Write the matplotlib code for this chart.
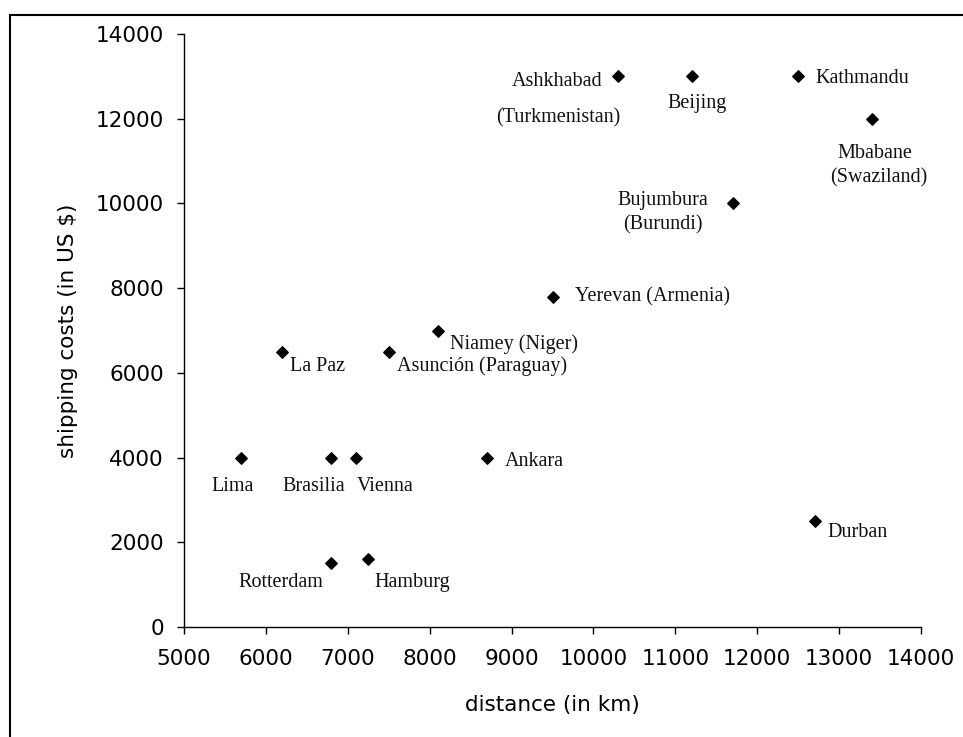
import matplotlib.pyplot as plt
from matplotlib.patches import Rectangle

# data
cities = ['Ashkhabad', 'Beijing', 'Kathmandu', 'Mbabane', 'Bujumbura', 'Yerevan',
          'Niamey', 'La Paz', 'Asuncion', 'Lima', 'Brasilia', 'Vienna', 'Ankara',
          'Rotterdam', 'Hamburg', 'Durban']
distance_km = [10300, 11200, 12500, 13400, 11700, 9500,
               8100, 6200, 7500, 5700, 6800, 7100, 8700,
               6800, 7250, 12700]
cost_usd = [13000, 13000, 13000, 12000, 10000, 7800,
            7000, 6500, 6500, 4000, 4000, 4000, 4000,
            1500, 1600, 2500]
label_lines = [['Ashkhabad', '(Turkmenistan)'], ['Beijing'], ['Kathmandu'],
               ['Mbabane', '(Swaziland)'], ['Bujumbura', '(Burundi)'],
               ['Yerevan (Armenia)'], ['Niamey (Niger)'], ['La Paz'],
               ['Asunción (Paraguay)'], ['Lima'], ['Brasilia'], ['Vienna'],
               ['Ankara'], ['Rotterdam'], ['Hamburg'], ['Durban']]
x_ticks = list(range(5000, 14001, 1000))
y_ticks = list(range(0, 14001, 2000))

# label placement: per line (dx, dy_down, ha) in pixels from the marker, baseline anchored
label_pos = {
    'Ashkhabad': [(-61, 10, 'center'), (-60, 46, 'center')],
    'Beijing': [(5, 32, 'center')],
    'Kathmandu': [(17, 7, 'left')],
    'Mbabane': [(3, 39, 'center'), (7, 64, 'center')],
    'Bujumbura': [(-70, 2, 'center'), (-70, 26, 'center')],
    'Yerevan': [(22, 5, 'left')],
    'Niamey': [(12, 19, 'left')],
    'La Paz': [(8, 19, 'left')],
    'Asuncion': [(8, 19, 'left')],
    'Lima': [(-9, 33, 'center')],
    'Brasilia': [(-18, 33, 'center')],
    'Vienna': [(1, 33, 'left')],
    'Ankara': [(18, 8, 'left')],
    'Rotterdam': [(-51, 24, 'center')],
    'Hamburg': [(6, 28, 'left')],
    'Durban': [(13, 16, 'left')],
}


def plot_shipping(dpi=100):
    plt.rcParams['font.family'] = ['DejaVu Sans']
    fig = plt.figure(figsize=(9.63, 7.37), dpi=dpi)
    ax = fig.add_axes([184 / 963, 1 - 627 / 737, (921 - 184) / 963, (627 - 34) / 737])

    ax.scatter(distance_km, cost_usd, marker='D', s=34, color='black', zorder=3)

    for city, x, y, lines in zip(cities, distance_km, cost_usd, label_lines):
        for text, (dx, dy, ha) in zip(lines, label_pos[city]):
            ax.annotate(text, (x, y), xytext=(dx, -dy), textcoords='offset pixels',
                        ha=ha, va='baseline', fontsize=14.5,
                        family=['Liberation Serif', 'DejaVu Serif'], color='#111111')

    ax.set_xlim(5000, 14000)
    ax.set_ylim(0, 14000)
    ax.set_xticks(x_ticks)
    ax.set_yticks(y_ticks)
    ax.tick_params(direction='out', length=5, width=1, labelsize=15.5, pad=9.5)
    ax.tick_params(axis='x', pad=10.5)
    for side in ['top', 'right']:
        ax.spines[side].set_visible(False)
    for side in ['left', 'bottom']:
        ax.spines[side].set_linewidth(1)

    ax.set_xlabel('distance (in km)', fontsize=15.5, labelpad=19)
    ax.set_ylabel('shipping costs (in US $)', fontsize=15.5, labelpad=13)

    # outer frame, partly outside the picture
    fig.patches.append(Rectangle((10 / 963, -0.1), 2, 1.1 - 15 / 737,
                                 transform=fig.transFigure, fill=False,
                                 lw=1.5, edgecolor='black'))

    fig.savefig('out.png', dpi=dpi)


if __name__ == "__main__":
    plot_shipping()
